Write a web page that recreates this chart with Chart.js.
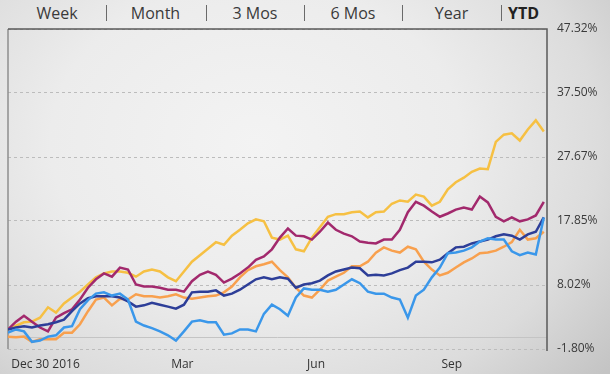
<!DOCTYPE html>
<html>
<head>
<meta charset="utf-8">
<script src="https://cdn.jsdelivr.net/npm/chart.js@4.4.1/dist/chart.umd.min.js"></script>
<style>
  html, body {
    margin: 0;
    padding: 0;
    width: 610px;
    height: 374px;
    overflow: hidden;
    font-family: "Open Sans", sans-serif;
  }
  body {
    background: radial-gradient(ellipse 75% 95% at 42% 38%, #f3f3f3 0%, #ececec 45%, #dcdcdc 75%, #c4c4c4 100%);
    position: relative;
  }
  #tabs {
    position: absolute;
    left: 0;
    top: 0;
    width: 610px;
    height: 28px;
  }
  .tab {
    position: absolute;
    top: 2px;
    height: 22px;
    line-height: 22px;
    font-size: 16px;
    color: #3a3a3a;
    text-align: center;
  }
  .tab.active {
    font-weight: bold;
    color: #222;
  }
  .sep {
    position: absolute;
    top: 5px;
    width: 1px;
    height: 16px;
    background: #6a6a6a;
  }
  canvas {
    position: absolute;
    left: 0;
    top: 0;
  }
</style>
</head>
<body>
<div id="tabs"></div>
<canvas id="perfChart" width="610" height="374"></canvas>
<script>
// Range selector tabs
const tabNames = ["Week", "Month", "3 Mos", "6 Mos", "Year", "YTD"];
const activeTab = "YTD";

// Sample index along the year (one point per sample), x tick labels
const xTickLabels = ["Dec 30 2016", "Mar", "Jun", "Sep"];
const xTickValues = [0.4, 20.4, 37.4, 54.2];
const yTickValues = [-1.80, 8.02, 17.85, 27.67, 37.50, 47.32];

// Percent change series
const goldSeries = [1.2, 1.8, 2.3, 2.4, 3.0, 4.6, 3.8, 5.2, 6.1, 7.0, 8.1, 9.2, 9.8, 10.1, 10.1, 9.9, 9.3, 10.1, 10.4, 10.1, 9.2, 8.6, 10.1, 11.6, 12.6, 13.6, 14.6, 14.2, 15.6, 16.5, 17.5, 18.1, 17.8, 15.3, 15.0, 15.6, 13.5, 13.2, 15.3, 16.9, 18.5, 18.9, 18.9, 19.2, 19.3, 18.4, 19.2, 19.3, 20.5, 21.0, 20.8, 21.9, 21.6, 20.2, 20.8, 22.7, 23.8, 24.5, 25.4, 25.9, 25.8, 30.0, 31.1, 31.3, 30.2, 31.9, 33.3, 31.6];
const magentaSeries = [1.2, 2.4, 3.3, 2.4, 1.5, 0.9, 3.0, 3.7, 4.3, 5.8, 7.6, 8.9, 9.8, 9.3, 10.7, 10.4, 8.1, 7.8, 7.8, 7.6, 7.3, 7.3, 7.0, 8.6, 9.6, 10.1, 9.6, 8.4, 9.0, 9.8, 10.7, 11.9, 12.4, 13.5, 15.3, 16.7, 15.6, 15.5, 15.0, 16.2, 17.6, 16.5, 15.9, 15.5, 14.7, 14.5, 14.4, 15.0, 15.0, 16.5, 19.2, 20.8, 20.2, 19.3, 18.5, 19.0, 19.6, 19.9, 19.6, 21.6, 20.7, 18.5, 17.8, 18.4, 17.8, 18.1, 18.7, 20.8];
const navySeries = [1.2, 1.5, 1.7, 1.5, 1.8, 2.0, 2.3, 2.7, 4.0, 5.2, 6.0, 6.3, 6.3, 6.3, 6.1, 5.5, 4.7, 4.9, 5.3, 5.0, 4.7, 4.4, 5.0, 6.9, 7.0, 7.0, 7.2, 6.4, 6.7, 7.3, 8.1, 8.9, 9.2, 8.9, 9.2, 9.0, 7.6, 8.1, 8.3, 8.7, 9.5, 10.1, 10.4, 10.7, 10.6, 9.5, 9.6, 9.5, 9.8, 10.3, 10.7, 11.6, 11.6, 11.5, 11.9, 12.9, 13.8, 13.9, 14.4, 14.7, 15.0, 15.5, 15.8, 15.6, 15.0, 15.8, 16.2, 18.4];
const skySeries = [0.7, 1.2, 0.9, -0.7, -0.5, 0.1, 0.3, 1.5, 1.7, 4.3, 5.7, 6.7, 6.9, 6.4, 6.7, 5.8, 2.4, 1.8, 1.4, 0.9, 0.3, -0.5, 0.9, 2.4, 2.6, 2.3, 2.3, 0.4, 0.6, 1.2, 1.2, 0.9, 3.6, 5.0, 4.3, 3.3, 6.1, 7.5, 7.3, 7.3, 7.0, 7.3, 8.1, 8.9, 8.3, 7.0, 6.7, 6.7, 6.1, 5.8, 3.0, 6.4, 7.3, 9.2, 10.7, 12.9, 13.0, 13.3, 13.8, 14.7, 15.2, 15.0, 15.0, 13.2, 12.6, 13.0, 12.7, 18.4];
const orangeSeries = [0.1, 0.0, 0.1, -0.7, -0.3, -0.3, -0.3, 0.7, 0.7, 2.0, 4.0, 5.8, 6.1, 4.9, 5.9, 5.8, 6.6, 6.3, 6.3, 6.1, 6.3, 6.6, 6.1, 5.9, 6.1, 6.3, 6.4, 6.9, 7.8, 9.2, 10.3, 10.9, 11.2, 11.6, 10.3, 9.2, 7.6, 6.4, 6.1, 7.3, 8.7, 9.3, 9.9, 10.9, 10.9, 11.6, 13.0, 13.8, 13.3, 13.0, 13.9, 13.5, 11.6, 10.4, 9.5, 9.9, 10.7, 11.5, 12.1, 12.9, 13.0, 13.3, 13.9, 14.6, 16.5, 15.0, 15.2, 16.2];

// Build the tab bar
const tabLayout = [
  { left: 8, width: 98 },
  { left: 106, width: 99 },
  { left: 206, width: 98 },
  { left: 304, width: 98 },
  { left: 402, width: 99 },
  { left: 501, width: 45 },
];
const tabBar = document.getElementById("tabs");
tabNames.forEach((name, i) => {
  const tab = document.createElement("div");
  tab.className = "tab" + (name === activeTab ? " active" : "");
  tab.style.left = `${tabLayout[i].left}px`;
  tab.style.width = `${tabLayout[i].width}px`;
  tab.textContent = name;
  tabBar.appendChild(tab);
  if (i > 0) {
    const sep = document.createElement("div");
    sep.className = "sep";
    sep.style.left = `${tabLayout[i].left}px`;
    tabBar.appendChild(sep);
  }
});

const toPoints = (values) => values.map((v, i) => ({ x: i, y: v }));

// Frame, zero line and borders drawn under the lines
const framePlugin = {
  id: "frame",
  beforeDatasetsDraw(chart) {
    const { ctx, chartArea, scales } = chart;
    const { left, right, top, bottom } = chartArea;
    const zeroY = Math.round(scales.y.getPixelForValue(0)) + 0.5;
    ctx.save();
    ctx.lineWidth = 1;
    ctx.strokeStyle = "#c4c4c4";
    ctx.beginPath();
    ctx.moveTo(left, zeroY);
    ctx.lineTo(right, zeroY);
    ctx.stroke();

    ctx.lineWidth = 1.5;
    ctx.strokeStyle = "#8e8e8e";
    ctx.beginPath();
    ctx.moveTo(left, top);
    ctx.lineTo(left, bottom);
    ctx.stroke();

    ctx.strokeStyle = "#5a5a5a";
    ctx.beginPath();
    ctx.moveTo(left, top);
    ctx.lineTo(right, top);
    ctx.lineTo(right, bottom + 2);
    ctx.stroke();
    ctx.restore();
  },
};

const makeLine = (label, values, color) => ({
  label,
  data: toPoints(values),
  borderColor: color,
  borderWidth: 2.5,
  pointRadius: 0,
  tension: 0,
  fill: false,
});

new Chart(document.getElementById("perfChart"), {
  type: "line",
  data: {
    datasets: [
      makeLine("Sky", skySeries, "#3a97ea"),
      makeLine("Navy", navySeries, "#2d3e98"),
      makeLine("Orange", orangeSeries, "#f8a04e"),
      makeLine("Magenta", magentaSeries, "#a2296d"),
      makeLine("Gold", goldSeries, "#f6c043"),
    ],
  },
  options: {
    responsive: false,
    animation: false,
    layout: {
      padding: { left: 8, top: 29, right: 0, bottom: 0 },
    },
    plugins: {
      legend: { display: false },
      tooltip: { enabled: false },
    },
    scales: {
      x: {
        type: "linear",
        min: 0,
        max: 67.4,
        afterBuildTicks: (axis) => {
          axis.ticks = xTickValues.map((value) => ({ value }));
        },
        afterFit: (axis) => {
          axis.height = 25;
        },
        ticks: {
          autoSkip: false,
          maxRotation: 0,
          align: "start",
          padding: 8,
          color: "#333",
          font: { family: "Open Sans", size: 12 },
          callback: (value, index) => xTickLabels[index],
        },
        grid: { display: false, drawTicks: false },
        border: { display: false },
      },
      y: {
        position: "right",
        min: -1.8,
        max: 47.32,
        afterBuildTicks: (axis) => {
          axis.ticks = yTickValues.map((value) => ({ value }));
        },
        afterFit: (axis) => {
          axis.width = 63;
        },
        ticks: {
          padding: 10,
          color: "#3a3a3a",
          font: { family: "Open Sans", size: 12 },
          callback: (value) => `${value.toFixed(2)}%`,
        },
        grid: {
          color: "#bcbcbc",
          lineWidth: 1,
          drawTicks: false,
        },
        border: { display: false, dash: [3, 3] },
      },
    },
  },
  plugins: [framePlugin],
});
</script>
</body>
</html>
